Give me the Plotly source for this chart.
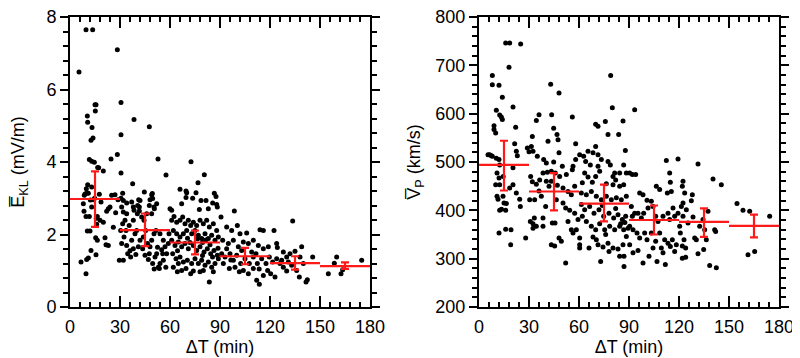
import plotly.graph_objects as go

# ---------------- data ----------------
bin_centers = [15, 45, 75, 105, 135, 165]
bin_halfwidth = [15, 15, 15, 15, 15, 15]

ekl_mean = [2.98, 2.12, 1.78, 1.40, 1.21, 1.13]
ekl_hi = [3.74, 2.58, 2.11, 1.63, 1.40, 1.23]
ekl_lo = [2.21, 1.68, 1.45, 1.18, 1.03, 1.05]

vp_mean = [494, 439, 414, 380, 376, 368]
vp_hi = [544, 477, 453, 410, 404, 391]
vp_lo = [441, 400, 377, 350, 345, 344]

# left panel scatter points (dT in min, E_KL in mV/m)
ekl_points = [
    (5.4, 6.48), (9.6, 7.65), (13.6, 7.65), (28.4, 7.1), (15, 5.58), (15.6, 5.58), (15.2, 5.41),
    (10.4, 5.27), (10.6, 5.1), (13.2, 4.95), (13.8, 4.66), (12.6, 4.6), (28.4, 4.21), (11.6, 4.07),
    (13, 4.02), (14.6, 3.99), (24.6, 4.08), (16.6, 3.85), (17.2, 3.84), (20, 3.75), (10.6, 3.37),
    (9.8, 3.26), (13, 3.31), (17.6, 3.11), (11, 3.14), (9, 3.12), (10, 3.14), (25, 3.08), (27, 3.1),
    (8.6, 3.08), (14, 2.96), (8, 2.85), (13, 2.76), (11.6, 2.5), (16.4, 2.5), (20, 2.34), (22, 2.64),
    (23, 2.71), (24, 2.76), (18, 2.39), (16, 2.28), (8.4, 2.64), (9.6, 2.5), (10.4, 2.10), (12, 2.10),
    (15.4, 1.91), (21, 1.91), (21.6, 1.72), (16.4, 1.84), (12.6, 1.56), (15.6, 1.44), (23, 1.70),
    (11, 1.35), (10, 1.31), (6.6, 1.24), (9.6, 0.92), (29.6, 1.29), (12.2, 2.95), (14.8, 3.0),
    (15.8, 2.45), (18.6, 2.9), (26, 2.2), (27.4, 2.6), (28.8, 2.96),
    (30.6, 5.64), (30.6, 4.75), (38.4, 5.17), (47.6, 4.97), (52.8, 4.08), (30.6, 3.70), (57.6, 3.64),
    (37.6, 3.40), (44.6, 3.17), (49.4, 3.13), (49, 3.10), (31.6, 3.14), (30.6, 3.0), (32, 2.94),
    (34, 2.87), (41.2, 2.96), (48, 2.96), (38.4, 2.67), (41.6, 2.76), (47.6, 2.80), (50.6, 2.71),
    (31, 2.76), (32, 2.62), (34, 2.57), (33, 2.39), (31.6, 2.30), (30.4, 2.11), (33.6, 2.11),
    (32.4, 1.93), (31, 1.75), (34, 1.70), (34.6, 1.47), (32, 1.29), (36.4, 1.38), (38, 1.61),
    (37, 1.84), (39, 2.02), (40, 2.11), (38, 2.39), (40.4, 2.57), (41.6, 2.65), (43, 2.48),
    (44.4, 2.39), (46, 2.57), (45.4, 2.11), (44, 1.93), (42, 1.84), (41, 1.66), (43.6, 1.61),
    (45, 1.43), (48, 1.66), (47.6, 1.47), (47, 1.31), (49.6, 1.20), (51, 1.38), (52, 1.47),
    (53, 1.10), (53.6, 1.06), (54, 1.20), (56, 1.29), (55.6, 1.47), (49, 1.84), (50.4, 2.02),
    (51.6, 2.11), (54, 2.02), (56, 1.84), (57, 1.66), (58, 1.47), (59, 1.75), (59.4, 2.02),
    (49, 2.57), (50.4, 2.76), (52, 2.85), (49.6, 2.99), (42, 2.94), (40.6, 2.80), (38, 2.76),
    (37, 2.90), (35.5, 2.25), (36, 1.55), (39.5, 1.45), (46.5, 1.75), (52.5, 1.65), (55, 1.58),
    (57.5, 1.10), (50.5, 1.05),
    (72.6, 4.01), (80.6, 3.65), (76.8, 3.43), (66, 3.25), (69.6, 3.2), (70, 3.15), (75.6, 3.15),
    (86.6, 3.14), (87.6, 3.05), (69.6, 3.02), (73.6, 3.0), (78.6, 2.94), (81.6, 2.94), (85.6, 2.87),
    (88, 2.83), (88.4, 2.76), (77.6, 2.69), (83, 2.71), (60, 2.71), (61, 2.67), (67, 2.85),
    (61, 2.39), (62.4, 2.50), (64, 2.34), (66, 2.39), (67.6, 2.48), (69, 2.30), (71, 2.39),
    (72.4, 2.25), (74, 2.34), (76, 2.25), (78, 2.39), (80, 2.30), (82, 2.39), (83.6, 2.21),
    (86, 2.30), (88, 2.11), (62, 2.11), (64, 2.02), (66, 1.93), (68, 2.02), (70, 2.11), (73, 2.02),
    (75, 2.11), (77, 1.98), (79, 1.89), (81, 2.02), (83, 1.89), (85, 1.98), (87, 1.84), (89, 1.93),
    (61, 1.84), (63, 1.70), (65, 1.79), (67, 1.66), (69, 1.75), (71, 1.61), (74, 1.70), (76, 1.56),
    (78, 1.66), (80.4, 1.52), (82.4, 1.61), (84.4, 1.47), (86.4, 1.56), (88.4, 1.43), (61.6, 1.47),
    (63.6, 1.33), (66, 1.38), (68, 1.24), (70.4, 1.29), (73, 1.20), (75, 1.33), (77, 1.20),
    (79, 1.29), (81, 1.15), (83, 1.24), (85, 1.10), (87, 1.20), (89, 1.33), (62, 1.10),
    (64.4, 0.97), (67, 1.01), (72.4, 0.92), (74, 0.99), (78, 0.97), (80, 1.01), (83.6, 0.69),
    (86, 0.97), (65, 1.2), (69.6, 1.06), (72, 1.78), (79.5, 1.78), (84, 1.72), (88.8, 1.62),
    (81.5, 1.85), (76.5, 1.88), (70.5, 1.9), (85.5, 1.38), (79.5, 1.42), (64.5, 1.55),
    (98.6, 2.65), (90.6, 2.48), (94, 2.21), (97, 2.11), (100.4, 2.25), (102, 2.02), (106, 2.04),
    (114, 2.13), (116, 2.11), (91.6, 1.84), (95, 1.75), (98, 1.84), (101, 1.66), (104, 1.79),
    (107, 1.75), (110, 1.84), (113, 1.70), (116, 1.61), (119, 1.66), (91, 1.47), (93, 1.38),
    (96, 1.47), (98, 1.29), (100, 1.43), (102.4, 1.20), (105, 1.33), (107.6, 1.20), (110, 1.38),
    (112.4, 1.20), (115, 1.33), (117.6, 1.20), (119.6, 1.38), (92, 1.20), (95.6, 1.06), (99, 1.10),
    (101.6, 0.97), (104, 1.01), (107, 0.92), (110, 1.06), (112, 0.74), (113.6, 0.63), (116, 0.87),
    (118.6, 1.01), (94, 1.61), (103, 1.56), (109, 1.52), (111.6, 1.47), (96.5, 1.3), (113.5, 1.05),
    (122.4, 2.11), (133.6, 2.37), (124, 1.75), (124.4, 1.64), (139, 1.66), (128, 1.52), (130, 1.38),
    (132, 1.47), (135, 1.54), (138, 1.38), (124, 1.33), (126, 1.20), (121.6, 1.24), (128, 1.10),
    (130, 0.99), (133, 1.15), (136, 1.01), (137.6, 0.83), (141.6, 0.69), (142.4, 0.75), (123, 0.83),
    (120.4, 0.92), (140, 1.2), (127, 1.29), (131, 1.24), (145.6, 1.38),
    (155, 0.92), (160, 1.38), (162.6, 0.92), (163.6, 1.03), (175, 1.29), (158.6, 1.21),
]

# right panel scatter points (dT in min, V_P in km/s)
vp_points = [
    (16, 746), (18.4, 746), (25, 744), (18, 696), (8, 679), (8, 660), (12, 659), (14, 634),
    (20.4, 614), (10.4, 607), (12.4, 597), (13.4, 593), (14, 588), (9, 575), (9, 567), (10, 560),
    (22, 572), (21.4, 538), (22.4, 522), (23, 513), (6.4, 515), (8, 512), (10.4, 508), (12, 505),
    (12.4, 494), (20.4, 488), (10.8, 477), (12, 467), (10, 453), (12.4, 453), (18.4, 446),
    (10.8, 429), (11.4, 423), (14.4, 429), (12.4, 400), (16, 400), (16.4, 414), (20.4, 453),
    (22.4, 436), (24.4, 423), (24.8, 408), (12, 353), (16, 361), (19.2, 360), (19, 329),
    (29, 529), (28, 343), (5.4, 515), (7.4, 513), (14.5, 470), (13.5, 402), (15, 415),
    (43, 661), (48, 643), (43.6, 598), (36, 598), (34.4, 586), (56, 593), (44.8, 570), (32, 553),
    (46.8, 557), (47.4, 546), (41.4, 543), (31.4, 532), (32.4, 522), (35, 512), (38.8, 505),
    (40.4, 498), (44.8, 500), (48, 519), (58, 538), (58, 505), (56.4, 491), (50, 491), (43.4, 481),
    (45.8, 477), (48.4, 470), (52.4, 474), (56, 484), (31, 470), (32, 459), (34.4, 454),
    (36.4, 463), (40.4, 460), (42, 450), (43.4, 460), (38.4, 477), (50.4, 446), (53.4, 439),
    (55.4, 432), (57.4, 450), (30.4, 422), (33.4, 422), (37.4, 429), (40, 408), (46.4, 422),
    (50.4, 415), (52, 405), (54.4, 400), (57.4, 394), (30.8, 377), (32.4, 372), (34.4, 367),
    (38.4, 367), (33.2, 384), (38.4, 384), (44, 374), (45.6, 374), (53.4, 377), (55.4, 360),
    (56.4, 353), (48, 343), (49.4, 336), (43.4, 329), (45.4, 326), (52, 291), (58.4, 360),
    (59.4, 381), (32.4, 363), (30, 521), (41, 479), (47, 452), (36, 440),
    (79, 679), (80, 612), (70, 578), (71.4, 574), (77.4, 557), (83.8, 557), (75.8, 584), (86.4, 585),
    (87.8, 524), (60.4, 515), (65.4, 522), (68.4, 519), (71.4, 515), (70, 532), (73.4, 505),
    (77.4, 501), (78.8, 494), (81.4, 477), (80.4, 470), (84.4, 477), (86.8, 494), (88.4, 477),
    (62.8, 512), (64, 501), (66.8, 494), (71.4, 491), (72.4, 481), (63.4, 477), (65.4, 469),
    (68, 458), (70, 470), (76.4, 455), (80.4, 453), (82, 463), (84.4, 450), (86.8, 453), (62, 457),
    (61.4, 436), (64.4, 432), (67.4, 439), (70.4, 429), (73.4, 422), (76.4, 429), (79.4, 422),
    (82.4, 426), (85.4, 422), (88.4, 429), (61.4, 412), (63.4, 401), (66.4, 408), (69, 394),
    (72, 401), (74.8, 388), (78, 394), (80.8, 384), (83.4, 391), (86, 381), (88, 388), (62, 388),
    (64.4, 377), (67.4, 367), (70, 360), (72.4, 372), (75.4, 360), (78.4, 367), (81.4, 360),
    (84.4, 367), (86.8, 360), (89.4, 363), (60.4, 343), (60.4, 329), (60.4, 322), (66, 322),
    (68.4, 345), (70.4, 339), (71.4, 329), (74.4, 324), (73, 294), (77.4, 332), (78, 315),
    (80.4, 322), (83.4, 320), (84.4, 305), (87, 305), (86.4, 329), (87, 284), (88.4, 346),
    (74, 410), (82, 404), (85, 372), (87.5, 375), (76, 350),
    (93.4, 608), (90.4, 477), (92, 474), (94, 474), (96.4, 436), (98.4, 432), (100.8, 421),
    (103.4, 419), (106.4, 450), (108.4, 443), (112.4, 503), (114.4, 477), (114.8, 458), (113, 436),
    (115.4, 439), (119.4, 506), (91.4, 408), (93.4, 394), (95.4, 394), (92, 388), (97.4, 384),
    (98.8, 394), (101.4, 405), (104.4, 408), (106, 388), (107.4, 377), (110.4, 388), (113.4, 394),
    (114.4, 381), (117.4, 388), (119.4, 394), (90.4, 367), (92.4, 360), (94.8, 353), (96.4, 343),
    (99.4, 353), (100.8, 339), (103.4, 353), (106, 336), (108.4, 353), (111.4, 339), (113.4, 332),
    (116, 339), (118.4, 329), (90.4, 329), (92.4, 312), (95.4, 317), (98.4, 291), (102, 305),
    (106.8, 294), (110.4, 312), (111.8, 288), (114.8, 325), (117.4, 315), (104.4, 322),
    (109.4, 322), (116.4, 405),
    (131.4, 496), (122.4, 460), (122, 450), (123.4, 436), (122.4, 415), (121.4, 408), (124.4, 401),
    (122.4, 388), (128, 432), (127.4, 420), (128.4, 386), (125.4, 374), (120.4, 367), (120.8, 353),
    (123, 339), (122, 326), (124, 322), (122, 301), (124, 303), (129.4, 343), (130.4, 339),
    (132.4, 367), (134.4, 381), (135.4, 360), (131.4, 310), (134.8, 319), (137.4, 398), (141.4, 360),
    (142, 356), (140.4, 465), (145.4, 453), (138.4, 286), (142.4, 281), (136.4, 339),
    (154.8, 414), (158.4, 400), (162.4, 398), (161.4, 308), (165.4, 315), (174.4, 388),
]

# ---------------- figure ----------------
FONT = "Liberation Sans, Arial, Helvetica, sans-serif"
RED = "#ff1a1a"

fig = go.Figure()

def add_panel(points, mean, hi, lo, xa, ya):
    fig.add_trace(go.Scatter(
        x=[p[0] for p in points], y=[p[1] for p in points],
        mode="markers", marker=dict(color="black", size=5, line=dict(width=0)),
        xaxis=xa, yaxis=ya, showlegend=False, hoverinfo="x+y"))
    fig.add_trace(go.Scatter(
        x=bin_centers, y=mean, mode="markers",
        marker=dict(size=1, color=RED, opacity=0),
        error_x=dict(type="data", array=bin_halfwidth, symmetric=True,
                     width=0, thickness=2.2, color=RED),
        error_y=dict(type="data", symmetric=False,
                     array=[h - m for h, m in zip(hi, mean)],
                     arrayminus=[m - l for m, l in zip(mean, lo)],
                     width=4, thickness=2.2, color=RED),
        xaxis=xa, yaxis=ya, showlegend=False))

add_panel(ekl_points, ekl_mean, ekl_hi, ekl_lo, "x", "y")
add_panel(vp_points, vp_mean, vp_hi, vp_lo, "x2", "y2")

TF = dict(family=FONT, size=18, color="black")
xcommon = dict(range=[0, 180], tick0=0, dtick=30, ticks="inside", ticklen=11, tickwidth=2,
               tickcolor="black", showline=True, linecolor="black", linewidth=2,
               mirror="allticks", showgrid=False, zeroline=False, automargin=False,
               minor=dict(dtick=6, ticks="inside", ticklen=5, tickwidth=1.5, tickcolor="black"),
               tickfont=TF, ticklabelstandoff=2, ticklabeloverflow="allow",
               title=dict(text="ΔT (min)", font=TF, standoff=2))
ycommon = dict(ticks="outside", ticklen=8, tickwidth=2, tickcolor="black", showline=True,
               linecolor="black", linewidth=2, mirror="allticks", showgrid=False,
               zeroline=False, automargin=False, tickfont=TF, ticklabeloverflow="allow")

# the page body adds an 8 px offset; the figure is sized to the visible area
W, H = 792, 350
ML, MT = 62, 9
PW, PH = 709, 290
MR, MB = W - ML - PW, H - MT - PH

fig.update_layout(
    width=W, height=H, margin=dict(l=ML, r=MR, t=MT, b=MB, pad=0),
    paper_bgcolor="white", plot_bgcolor="white",
    xaxis=dict(domain=[0, 300 / PW], anchor="y", **xcommon),
    xaxis2=dict(domain=[409 / PW, 1], anchor="y2", **xcommon),
    yaxis=dict(domain=[0, 1], anchor="x", range=[0, 8], dtick=2, tick0=0,
               minor=dict(dtick=0.4, ticks="outside", ticklen=5, tickwidth=1.5, tickcolor="black"),
               title=dict(text="E\u0305<sub>KL</sub> (mV/m)", font=TF, standoff=17),
               **ycommon),
    yaxis2=dict(domain=[0, 1], anchor="x2", range=[200, 800], dtick=100, tick0=200,
                minor=dict(dtick=20, ticks="outside", ticklen=5, tickwidth=1.5, tickcolor="black"),
                title=dict(text="V\u0305<sub>P</sub> (km/s)", font=TF, standoff=10),
                **ycommon),
)

fig.write_html("out.html")
